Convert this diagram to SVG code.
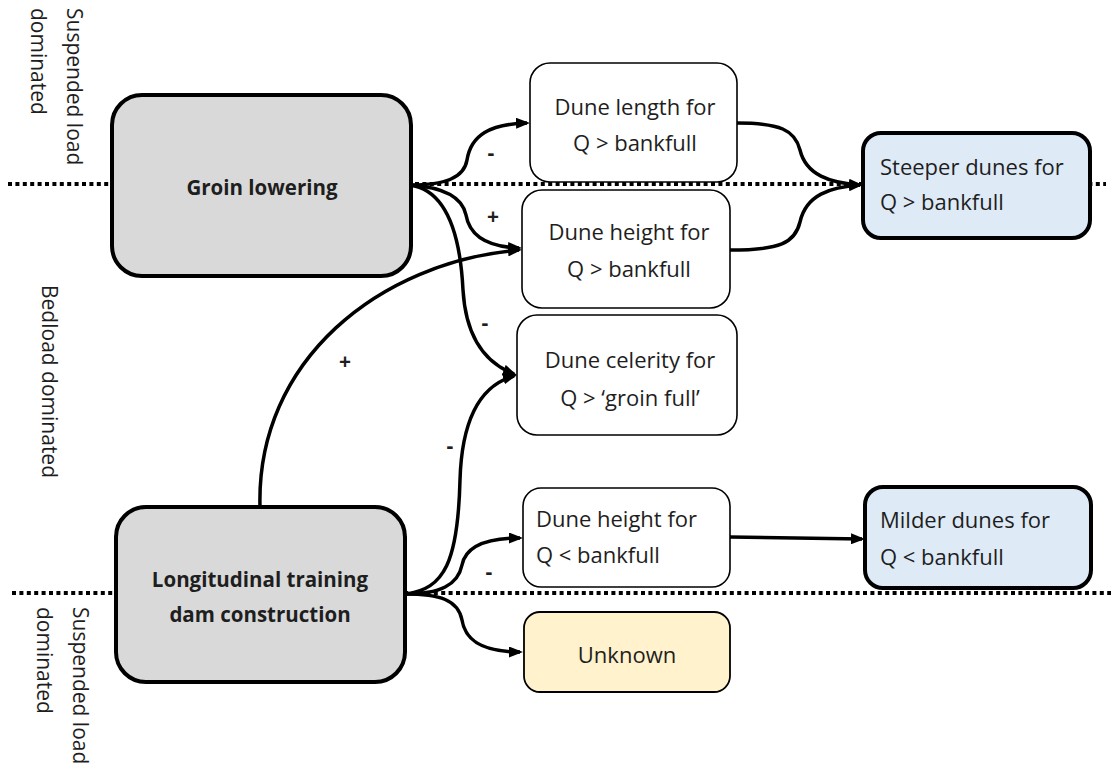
<svg xmlns="http://www.w3.org/2000/svg" width="1113" height="774" viewBox="0 0 1113 774">
<style>
text{font-family:"Open Sans","Noto Sans","Liberation Sans",sans-serif;fill:#1e1e1e}
.t{font-size:22px}
.v{font-size:21px}
.b{font-size:20.5px;font-weight:bold;text-anchor:middle}
.c{text-anchor:middle}
.sign{font-size:21px;font-weight:bold;text-anchor:middle}
.big{fill:#d9d9d9;stroke:#000;stroke-width:4}
.wht{fill:#fff;stroke:#000;stroke-width:1.6}
.blu{fill:#deebf7;stroke:#000;stroke-width:4}
.yel{fill:#fff2cc;stroke:#000;stroke-width:1.8}
.dot{stroke:#000;stroke-width:4;stroke-dasharray:4 3.4;fill:none}
.con{fill:none;stroke:#000;stroke-width:3.5}
</style>
<defs>
<marker id="ah" viewBox="0 0 14 11" refX="11" refY="5.5" markerWidth="14" markerHeight="11" markerUnits="userSpaceOnUse" orient="auto">
<path d="M0,0 L14,5.5 L0,11 z" fill="#000"/>
</marker>
</defs>
<rect width="1113" height="774" fill="#fff"/>
<g id="zones">
<line class="dot" x1="8" y1="184" x2="1106" y2="184"/>
<line class="dot" x1="12" y1="593" x2="1111" y2="593"/>
<text class="v" transform="translate(67,8) rotate(90)">Suspended load</text>
<text class="v" transform="translate(31,8) rotate(90)">dominated</text>
<text class="v" transform="translate(42,285) rotate(90)">Bedload dominated</text>
<text class="v" transform="translate(73,607) rotate(90)">Suspended load</text>
<text class="v" transform="translate(37,607) rotate(90)">dominated</text>
</g>
<g id="connectors">
<path class="con" marker-end="url(#ah)" d="M410,185 C445,185 464,178 467,160 C471,135 490,124 527,123"/>
<path class="con" marker-end="url(#ah)" d="M410,185 C440,187 462,195 466,215 C470,238 490,247 519,248"/>
<path class="con" marker-end="url(#ah)" d="M410,185 C445,190 460,230 463,290 C466,340 488,364 514,374"/>
<path class="con" marker-end="url(#ah)" d="M260,507 C256,360 380,262 519,250"/>
<path class="con" marker-end="url(#ah)" d="M405,594 C445,590 458,560 460,480 C462,412 485,384 514,376"/>
<path class="con" marker-end="url(#ah)" d="M405,594 C440,594 458,585 462,565 C466,545 490,538 520,538"/>
<path class="con" marker-end="url(#ah)" d="M405,594 C440,594 458,600 462,620 C466,645 490,652 520,652"/>
<path class="con" marker-end="url(#ah)" d="M737,123 C780,123 795,130 800,150 C806,175 830,183 860,185"/>
<path class="con" marker-end="url(#ah)" d="M730,250 C780,250 795,243 800,222 C806,195 830,187 860,185"/>
<path class="con" marker-end="url(#ah)" d="M730,537 L862,539"/>
<text class="sign" x="491" y="160">-</text>
<text class="sign" x="493" y="224">+</text>
<text class="sign" x="485" y="330">-</text>
<text class="sign" x="345" y="369">+</text>
<text class="sign" x="450" y="453">-</text>
<text class="sign" x="489" y="579">-</text>
</g>
<g id="groin">
<rect class="big" x="112" y="95" width="299" height="181" rx="30"/>
<text class="b" x="262" y="195">Groin lowering</text>
</g>
<g id="ltdc">
<rect class="big" x="116" y="507" width="289" height="175" rx="30"/>
<text class="b" x="260" y="587">Longitudinal training</text>
<text class="b" x="260" y="622">dam construction</text>
</g>
<g id="dunelength">
<rect class="wht" x="530" y="63" width="207" height="119" rx="20"/>
<text class="t c" x="635" y="115">Dune length for</text>
<text class="t c" x="635" y="151">Q &gt; bankfull</text>
</g>
<g id="duneheight1">
<rect class="wht" x="522" y="190" width="208" height="118" rx="20"/>
<text class="t c" x="629" y="240">Dune height for</text>
<text class="t c" x="629" y="277">Q &gt; bankfull</text>
</g>
<g id="celerity">
<rect class="wht" x="517" y="315" width="220" height="120" rx="20"/>
<text class="t c" x="630" y="368">Dune celerity for</text>
<text class="t c" x="630" y="406">Q &gt; ‘groin full’</text>
</g>
<g id="duneheight2">
<rect class="wht" x="523" y="488" width="207" height="99" rx="18"/>
<text class="t" x="536" y="527">Dune height for</text>
<text class="t" x="536" y="563">Q &lt; bankfull</text>
</g>
<g id="unknown">
<rect class="yel" x="524" y="612" width="206" height="80" rx="16"/>
<text class="t c" x="627" y="663">Unknown</text>
</g>
<g id="steeper">
<rect class="blu" x="863" y="133" width="227" height="105" rx="18"/>
<text class="t" x="880" y="175">Steeper dunes for</text>
<text class="t" x="880" y="210">Q &gt; bankfull</text>
</g>
<g id="milder">
<rect class="blu" x="865" y="487" width="226" height="101" rx="18"/>
<text class="t" x="880" y="528">Milder dunes for</text>
<text class="t" x="880" y="565">Q &lt; bankfull</text>
</g>
</svg>
